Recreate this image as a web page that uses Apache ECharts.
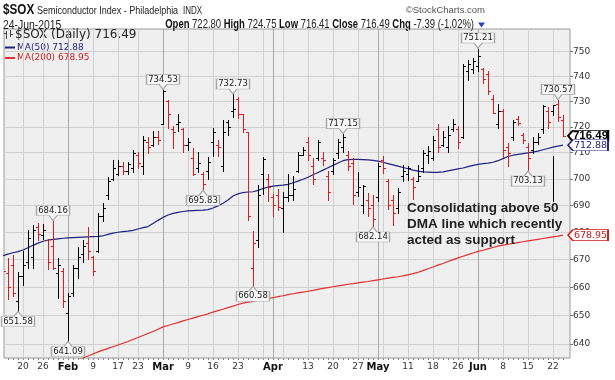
<!DOCTYPE html>
<html><head><meta charset="utf-8">
<script src="https://cdn.jsdelivr.net/npm/echarts@6/dist/echarts.min.js"></script>
<style>html,body{margin:0;padding:0;background:#fff}#c{width:615px;height:380px}</style>
</head><body><div id="c"></div>
<script>
// ---------- data ----------
const dates = ["2015-01-13","2015-01-14","2015-01-15","2015-01-16","2015-01-20","2015-01-21","2015-01-22","2015-01-23","2015-01-26","2015-01-27","2015-01-28","2015-01-29","2015-01-30",
"2015-02-02","2015-02-03","2015-02-04","2015-02-05","2015-02-06","2015-02-09","2015-02-10","2015-02-11","2015-02-12","2015-02-13","2015-02-17","2015-02-18","2015-02-19","2015-02-20","2015-02-23","2015-02-24","2015-02-25","2015-02-26","2015-02-27",
"2015-03-02","2015-03-03","2015-03-04","2015-03-05","2015-03-06","2015-03-09","2015-03-10","2015-03-11","2015-03-12","2015-03-13","2015-03-16","2015-03-17","2015-03-18","2015-03-19","2015-03-20","2015-03-23","2015-03-24","2015-03-25","2015-03-26","2015-03-27","2015-03-30","2015-03-31",
"2015-04-01","2015-04-02","2015-04-06","2015-04-07","2015-04-08","2015-04-09","2015-04-10","2015-04-13","2015-04-14","2015-04-15","2015-04-16","2015-04-17","2015-04-20","2015-04-21","2015-04-22","2015-04-23","2015-04-24","2015-04-27","2015-04-28","2015-04-29","2015-04-30",
"2015-05-01","2015-05-04","2015-05-05","2015-05-06","2015-05-07","2015-05-08","2015-05-11","2015-05-12","2015-05-13","2015-05-14","2015-05-15","2015-05-18","2015-05-19","2015-05-20","2015-05-21","2015-05-22","2015-05-26","2015-05-27","2015-05-28","2015-05-29",
"2015-06-01","2015-06-02","2015-06-03","2015-06-04","2015-06-05","2015-06-08","2015-06-09","2015-06-10","2015-06-11","2015-06-12","2015-06-15","2015-06-16","2015-06-17","2015-06-18","2015-06-19","2015-06-22","2015-06-23","2015-06-24"];

const opens = [670,665,668,655,664,669,671,682,679,677,675,665,666,
651,658,667,672,676,671,673,686,694,700,702,705,703,704,709,705,714,713,716,
721,730,719,721,719,713,708,704,702,703,714,713,705,722,726,731,725,718,667,677,702,700,
693,694,689,693,694,703,709,714,705,708,708,701,703,710,712,709,706,695,690,692,690,
693,707,699,692,689,701,702,700,699,704,709,708,719,713,712,719,719,716,742,743,
744,743,741,731,721,726,712,716,723,717,712,711,714,719,726,726,729,722.80];

const highs = [672,670.5,671.5,665.5,673,681,682.8,683.5,683,677.5,684.16,670.7,667,
658,668,674.5,677,682,671.3,687.3,691,700.7,707,707.3,706.3,706.5,711,710.4,716.5,715.9,718.5,718.5,
734.53,730.6,720.3,725,719.6,715.5,711.8,710.3,702.6,708.5,719.7,715,722.5,722.5,732.73,731.8,725,718,680.4,697.5,708.5,702,
694.3,696,695,701.8,701,710.3,712,716,708.1,715,710.3,703,708,715.2,717.15,710.5,708,702.4,697.6,694.5,693.8,
706,708.6,700,693.8,696.5,705.3,705,700.7,705.3,711,712.4,716.5,721,718.5,720.4,723,720.2,745,746.5,747.2,
751.21,743.2,742,732.5,728.8,726.8,713.9,722.8,724.1,717.5,713.9,716.2,717.5,728.6,727.9,728.6,730.57,724.75];

const lows = [660,656,657,651.58,661,667,667,677,677.5,666.5,666.5,656.2,653,
641.09,657,663.3,669,670.3,664.5,672.6,684.2,692.4,699.6,701.4,701.8,702,702.5,704,701.8,710,712.6,713.3,
721,719.5,711.6,718.5,710.4,711,701.3,702.5,695.83,700,708.6,708.6,703,717,724,723.6,718,684.7,660.58,674.5,694.4,691.5,
686,688.2,680,691.5,692,702.6,709,707,698.2,707,705.2,692,702,708.1,710.4,703.5,690.5,693.5,687.1,686.1,682.14,
691.5,702.3,688.5,682.7,687,699,699.5,692.4,699,702.6,706,707,710.3,712.6,710.3,718.5,711.7,715.8,738.5,741.2,
742,737.2,732.8,725.5,719.5,708.3,704.8,714.9,720.9,713.9,703.13,710,713.2,717.5,719.6,724.7,722.2,716.41];

const closes = [666,660,658,664,668,678,681,679.5,681,669,667,668,655,
657,667,671,675,673,666,686,689,699,704,705,703,705.5,710,706,715,712,716,715,
734,725,718,722,713,714,702,706,698,706.5,718,712,718,720,727,725,719,686,676,694,707.5,697,
690,689.5,693,694,696,709,711,709,700,714,707,695,707,714,716,705,694,697,697.3,689,685,
705,704,690,687,695,703,704,697,701,710,710.5,715,712,716,717,721,714,744,745,746,
748,739,734,725.5,726,711,710,722,721.5,715,708,714,716,728,722,728.5,723.88,716.49];

const ma50 = [671.4,672,672.5,672.9,673.5,674.3,675.2,676,676.7,677.1,677.4,677.6,677.8,
677.9,678,678.1,678.2,678.3,678.4,678.5,678.7,679.2,679.7,680,680.2,680.4,680.7,681.2,681.7,682.1,683.2,684.4,
685.5,686.4,687,687.4,687.7,687.9,688,688.1,688.2,688.4,689,689.8,690.8,692,693.5,694.3,694.8,695,695.1,695.6,696.3,696.9,
697.2,697.4,697.6,697.9,698.5,699.1,699.8,700.6,701.5,702.4,703.3,704.2,705.1,706,706.9,707.3,707.4,707.4,707.3,707.2,707,
706.7,706.3,705.8,705.3,704.8,704.3,703.8,703.3,702.9,702.6,702.5,702.4,702.4,702.6,703,703.4,703.8,704.1,704.6,705.1,
705.5,705.8,706,706.3,706.9,707.7,708.5,709,709.3,709.6,709.9,710.2,710.6,711.1,711.6,712.1,712.5,712.88];

const ma200 = [null,null,null,null,null,null,null,null,null,null,null,null,null,
null,634.0,634.6,635.2,635.9,636.6,637.3,637.9,638.5,639.1,639.7,640.3,640.9,641.6,642.3,643,643.7,644.4,645.2,
646,646.5,647,647.5,648.1,648.6,649.1,649.6,650.1,650.6,651.2,651.7,652.2,652.8,653.3,653.9,654.4,654.7,655,655.3,655.6,656,
656.3,656.7,657,657.4,657.7,658,658.3,658.6,658.9,659.3,659.6,659.9,660.2,660.5,660.8,661.1,661.3,661.6,661.9,662.1,662.4,
662.7,663,663.3,663.6,663.8,664.1,664.5,664.9,665.4,666,666.7,667.3,668,668.6,669.3,670,670.6,671.2,671.8,672.4,
673,673.4,673.9,674.4,674.9,675.3,675.6,675.9,676.2,676.5,676.8,677.1,677.4,677.7,678,678.3,678.6,678.95];

const xLabelDates = ["2015-01-20","2015-01-26","2015-02-02","2015-02-09","2015-02-17","2015-02-23","2015-03-02","2015-03-09","2015-03-16","2015-03-23",
"2015-04-01","2015-04-13","2015-04-20","2015-04-27","2015-05-01","2015-05-11","2015-05-18","2015-05-26","2015-06-01","2015-06-08","2015-06-15","2015-06-22"];
const xLabelTexts = ["20","26","Feb","9","17","23","Mar","9","16","23","Apr","13","20","27","May","11","18","26","Jun","8","15","22"];
const weekGridDates = ["2015-01-20","2015-01-26","2015-02-09","2015-02-17","2015-02-23","2015-03-09","2015-03-16","2015-03-23","2015-03-30",
"2015-04-06","2015-04-13","2015-04-20","2015-04-27","2015-05-04","2015-05-11","2015-05-18","2015-05-26","2015-06-08","2015-06-15","2015-06-22"];
const monthGridDates = ["2015-02-02","2015-03-02","2015-04-01","2015-05-01","2015-06-01"];
const yTicks = [640,650,660,670,680,690,700,710,720,730,740,750];

const highNotes = [["2015-01-28",684.16],["2015-03-02",734.53],["2015-03-20",732.73],["2015-04-22",717.15],["2015-06-01",751.21],["2015-06-23",730.57]];
const lowNotes = [["2015-01-16",651.58],["2015-02-02",641.09],["2015-03-12",695.83],["2015-03-26",660.58],["2015-04-30",682.14],["2015-06-15",703.13]];
const noteLine = {date:"2015-06-22", from:708.6, to:691.3};
const noteText = "Consolidating above 50\nDMA line which recently\nacted as support";

// ---------- chart ----------
const N = dates.length;
const idx = d => dates.indexOf(d);
const RED = '#e01a1a', BLACK = '#000000', NAVY = '#22227e', MARED = '#e23030';
const last = N - 1;
const lastC = closes[last], prevC = closes[last-1];
const chg = lastC - prevC, pct = chg / prevC * 100;
const f2 = v => v.toFixed(2);
const SANS = '"Liberation Sans", Arial, sans-serif';

const ohlc = dates.map((d,i) => [i, opens[i], highs[i], lows[i], closes[i]]);

function renderOHLC(params, api) {
  const i = api.value(0);
  const h = api.coord([i, api.value(2)]);
  const l = api.coord([i, api.value(3)]);
  const o = api.coord([i, api.value(1)]);
  const c = api.coord([i, api.value(4)]);
  const prev = i > 0 ? closes[i-1] : opens[i];
  const color = closes[i] < prev ? RED : BLACK;
  const n = Math.round(h[0]);
  const x = n + 0.5;
  const yy = v => Math.round(v) + 0.5;
  const st = {stroke: color, lineWidth: 1};
  return {type:'group', children:[
    {type:'line', shape:{x1:x, y1:Math.round(h[1]), x2:x, y2:Math.round(l[1])+1}, style:st},
    {type:'line', shape:{x1:n-2, y1:yy(o[1]), x2:n+1, y2:yy(o[1])}, style:st},
    {type:'line', shape:{x1:n, y1:yy(c[1]), x2:n+3, y2:yy(c[1])}, style:st}
  ]};
}

const xBase = {type:'value', min:0.2, max:113.4, position:'bottom', gridIndex:0,
  axisLine:{show:false, onZero:false}};

const tagPath = 'path://M0 5.5L5 0H40V11H5Z';
function tag(val, color, bold) {
  return {
    symbol: tagPath, symbolSize:[40,11], symbolOffset:[25,0], silent:true,
    itemStyle:{color:'#ffffff', borderColor:color, borderWidth: bold ? 1.3 : 1},
    label:{show:true, position:'inside', offset:[2.5,0.5], color:color,
      fontFamily: bold ? SANS : 'DejaVu Sans', fontWeight: bold ? 'bold' : 'normal',
      fontSize: bold ? 11.5 : 9.5, formatter: () => f2(val)},
    data:[{coord:[last, val]}]
  };
}

const noteBase = {
  type:'scatter', silent:true, z:5, xAxisIndex:0, yAxisIndex:0,
  itemStyle:{color:'#f7f7f7', borderColor:'#a8a8a8', borderWidth:1, opacity:1},
  label:{show:true, position:'inside', color:'#222', fontFamily:'DejaVu Sans', fontSize:8.5,
    formatter: p => f2(p.value[1])}
};

const chart = echarts.init(document.getElementById('c'), null, {renderer:'canvas'});
chart.setOption({
  animation:false,
  backgroundColor:'#ffffff',
  grid:{left:4, right:45, top:29, bottom:22, show:true, backgroundColor:'#efefef',
    borderColor:'#9a9a9a', borderWidth:1, containLabel:false, outerBoundsMode:'none'},
  xAxis:[
    Object.assign({}, xBase, {
      splitLine:{show:false},
      axisTick:{show:true, length:2, customValues: dates.map((d,i)=>i), lineStyle:{color:'#888'}},
      axisLabel:{show:true, margin:4, customValues: xLabelDates.map(idx),
        fontFamily:'DejaVu Sans', fontSize:9, color:'#333',
        formatter: v => {
          const k = xLabelDates.indexOf(dates[Math.round(v)]);
          if (k < 0) return '';
          const t = xLabelTexts[k];
          return /^\d+$/.test(t) ? t : '{m|' + t + '}';
        },
        rich:{m:{fontFamily:'DejaVu Sans', fontWeight:'bold', fontSize:10, color:'#111'}}}
    }),
    Object.assign({}, xBase, {
      axisLabel:{show:false},
      axisTick:{show:false, customValues: weekGridDates.map(idx)},
      splitLine:{show:true, lineStyle:{color:'#d2d2d2', width:1}}
    }),
    Object.assign({}, xBase, {
      axisLabel:{show:false},
      axisTick:{show:false, customValues: monthGridDates.map(idx)},
      splitLine:{show:true, lineStyle:{color:'#a9a9a9', width:1}}
    })
  ],
  yAxis:{type:'log', logBase:10, min:635.2, max:759.2, position:'right',
    axisLine:{show:false, onZero:false},
    axisTick:{show:true, length:3, customValues:yTicks, lineStyle:{color:'#777'}},
    axisLabel:{show:true, customValues:yTicks, margin:3, fontFamily:'DejaVu Sans', fontSize:9, color:'#333',
      formatter: v => String(Math.round(v))},
    splitLine:{show:true, lineStyle:{color:'#d2d2d2', width:1}}
  },
  series:[
    {type:'custom', name:'$SOX', xAxisIndex:0, yAxisIndex:0, clip:true, z:3,
      encode:{x:0, y:[1,2,3,4]}, data: ohlc, renderItem: renderOHLC,
      markLine:{silent:true, symbol:['none','none'], animation:false,
        lineStyle:{color:'#000', width:1, type:'solid'}, label:{show:false},
        data:[[{coord:[idx(noteLine.date), noteLine.from]}, {coord:[idx(noteLine.date), noteLine.to]}]]},
      markPoint: tag(lastC, '#000000', true)
    },
    {type:'line', name:'MA(50)', xAxisIndex:0, yAxisIndex:0, z:2, showSymbol:false, clip:true,
      data: ma50.map((v,i)=>[i,v]), lineStyle:{color:NAVY, width:1.2}, itemStyle:{color:NAVY},
      markPoint: tag(ma50[last], NAVY, false)},
    {type:'line', name:'MA(200)', xAxisIndex:0, yAxisIndex:0, z:2, showSymbol:false, clip:true,
      data: ma200.map((v,i)=>[i,v]), lineStyle:{color:MARED, width:1.2}, itemStyle:{color:MARED},
      markPoint: tag(ma200[last], '#d01818', false)},
    Object.assign({}, noteBase, {
      symbol:'path://M0 0H33V10H20.5L16.5 15L12.5 10H0Z', symbolSize:[33,15], symbolOffset:[0,-8],
      label: Object.assign({}, noteBase.label, {offset:[0,-2.5]}),
      data: highNotes.map(n => [idx(n[0]), n[1]])}),
    Object.assign({}, noteBase, {
      symbol:'path://M0 5H12.5L16.5 0L20.5 5H33V15H0Z', symbolSize:[33,15], symbolOffset:[0,8],
      label: Object.assign({}, noteBase.label, {offset:[0,2.5]}),
      data: lowNotes.map(n => [idx(n[0]), n[1]])})
  ],
  graphic:[
    {type:'text', x:3, y:10, scaleX:0.78, style:{text:'$SOX', fontFamily:SANS, fontWeight:'bold', fontSize:15, fill:'#111', verticalAlign:'middle'}},
    {type:'text', x:37, y:10.5, scaleX:0.78, style:{text:'Semiconductor Index - Philadelphia', fontFamily:SANS, fontSize:11.5, fill:'#222', verticalAlign:'middle'}},
    {type:'text', x:183, y:11, scaleX:0.8, style:{text:'INDX', fontFamily:SANS, fontSize:10, fill:'#222', verticalAlign:'middle'}},
    {type:'text', x:485, y:10.5, style:{text:'\u00A9StockCharts.com', fontFamily:SANS, fontSize:9.5, fill:'#555', align:'right', verticalAlign:'middle'}},
    {type:'text', x:3, y:25, scaleX:0.8, style:{text:'24-Jun-2015', fontFamily:SANS, fontSize:13, fill:'#222', verticalAlign:'middle'}},
    {type:'text', x:474, y:25, scaleX:0.79, style:{
      text:'{b|Open} ' + f2(opens[last]) + ' {b|High} ' + f2(highs[last]) + ' {b|Low} ' + f2(lows[last]) +
           ' {b|Close} ' + f2(lastC) + ' {b|Chg} ' + f2(chg) + ' (' + f2(pct) + '%)',
      fontFamily:SANS, fontSize:12, fill:'#222', align:'right', verticalAlign:'middle',
      rich:{b:{fontFamily:SANS, fontWeight:'bold', fontSize:12, fill:'#111'}}}},
    {type:'polygon', shape:{points:[[478,22.5],[485,22.5],[481.5,27.5]]}, style:{fill:'#2346c8'}},
    // legend
    {type:'line', shape:{x1:6.5,y1:31,x2:6.5,y2:39}, style:{stroke:'#444', lineWidth:1}},
    {type:'line', shape:{x1:4,y1:33.5,x2:6.5,y2:33.5}, style:{stroke:'#444', lineWidth:1}},
    {type:'line', shape:{x1:10.5,y1:30,x2:10.5,y2:37}, style:{stroke:'#444', lineWidth:1}},
    {type:'line', shape:{x1:10.5,y1:34.5,x2:13,y2:34.5}, style:{stroke:'#444', lineWidth:1}},
    {type:'text', x:15, y:34.5, style:{text:'$SOX (Daily) ' + f2(lastC), fontFamily:'DejaVu Sans', fontSize:12, fill:'#222', verticalAlign:'middle'}},
    {type:'line', shape:{x1:5,y1:47.5,x2:15,y2:47.5}, style:{stroke:NAVY, lineWidth:2}},
    {type:'text', x:17, y:47.5, style:{text:'MA(50) ' + f2(ma50[last]), fontFamily:'DejaVu Sans', fontSize:9, fill:NAVY, verticalAlign:'middle'}},
    {type:'line', shape:{x1:5,y1:58,x2:15,y2:58}, style:{stroke:MARED, lineWidth:2}},
    {type:'text', x:17, y:58, style:{text:'MA(200) ' + f2(ma200[last]), fontFamily:'DejaVu Sans', fontSize:9, fill:'#d01818', verticalAlign:'middle'}},
    // annotation
    {type:'text', x:407, y:200, z:10, style:{text:noteText, fontFamily:SANS, fontWeight:'bold', fontSize:13.5, lineHeight:16, fill:'#222', verticalAlign:'top'}}
  ]
});
</script>
</body></html>
